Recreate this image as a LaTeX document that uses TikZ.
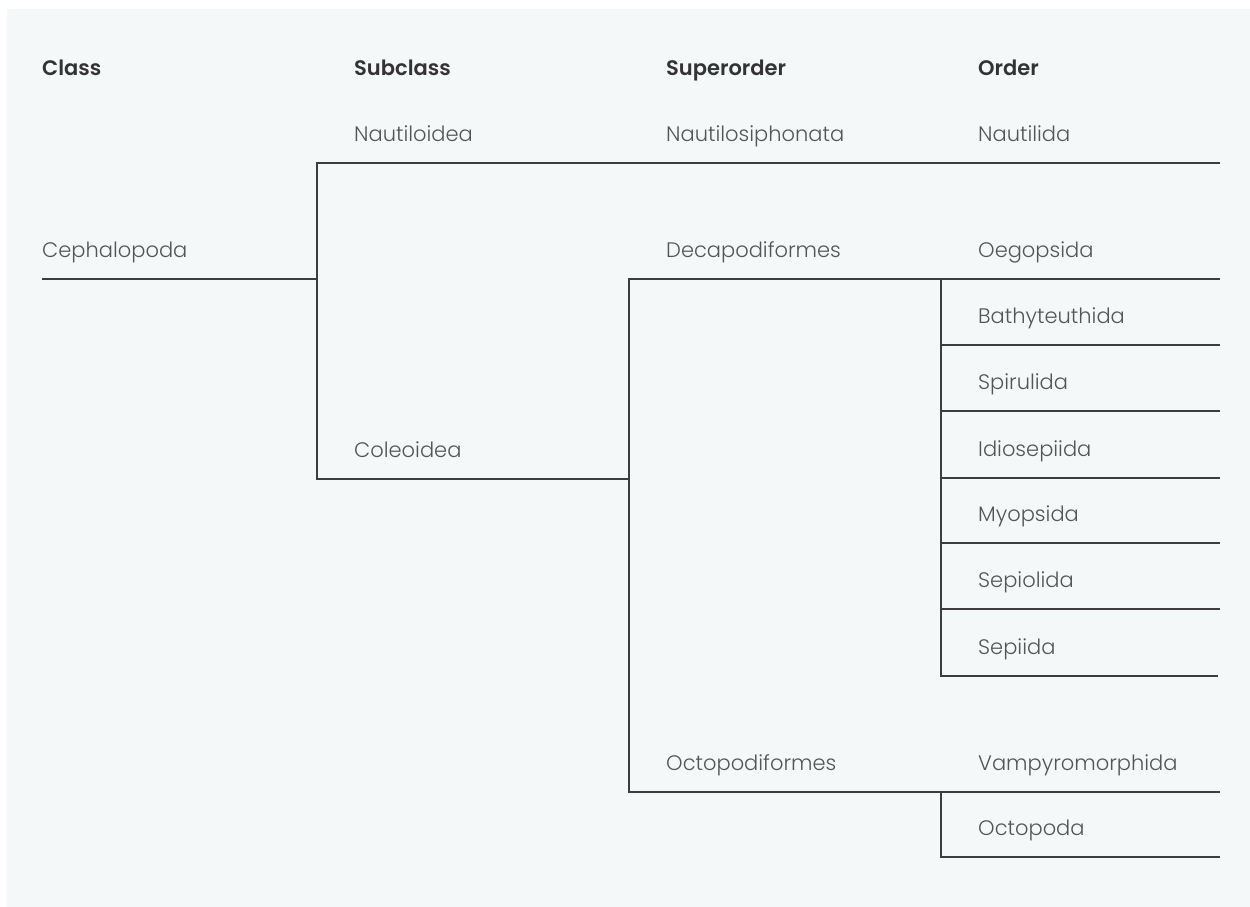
\documentclass[tikz,border=0pt]{standalone}
\usepackage{fontspec}
\setmainfont{Poppins Light}[BoldFont={Poppins SemiBold}]
\definecolor{bgc}{HTML}{F4F8F8}
\definecolor{linec}{HTML}{3D3D3D}
\definecolor{txtc}{HTML}{555555}
\definecolor{headc}{HTML}{333333}
\tikzset{
  lbl/.style={anchor=base west, inner sep=0pt, text=txtc, font=\fontsize{21}{25}\selectfont},
  head/.style={anchor=base west, inner sep=0pt, text=headc, font=\fontsize{21}{25}\selectfont\bfseries},
  branch/.style={draw=linec, line width=2.9pt, line join=miter},
}
\begin{document}
\begin{tikzpicture}[x=1pt, y=-1pt]
\useasboundingbox (0,0) rectangle (1250,907);
\fill[bgc] (7,9) rectangle (1250,907);
% headers
\node[head] (hclass) at (42,75) {Class};
\node[head] (hsub) at (354,75) {Subclass};
\node[head] (hsup) at (666,75) {Superorder};
\node[head] (hord) at (978,75) {Order};
% labels
\node[lbl] (ceph) at (42,257) {Cephalopoda};
\node[lbl] (nautiloidea) at (354,141) {Nautiloidea};
\node[lbl] (coleoidea) at (354,457) {Coleoidea};
\node[lbl] (nautilosiph) at (666,141) {Nautilosiphonata};
\node[lbl] (decapod) at (666,257) {Decapodiformes};
\node[lbl] (octopodif) at (666,770) {Octopodiformes};
\node[lbl] (nautilida) at (978,141) {Nautilida};
\node[lbl] (oegopsida) at (978,257) {Oegopsida};
\node[lbl] (bathy) at (978,323) {Bathyteuthida};
\node[lbl] (spirulida) at (978,389) {Spirulida};
\node[lbl] (idiosep) at (978,456) {Idiosepiida};
\node[lbl] (myopsida) at (978,521) {Myopsida};
\node[lbl] (sepiolida) at (978,587) {Sepiolida};
\node[lbl] (sepiida) at (978,654) {Sepiida};
\node[lbl] (vampyro) at (978,770) {Vampyromorphida};
\node[lbl] (octopoda) at (978,835) {Octopoda};
% branch coordinates
\coordinate (cephL) at (42,279);
\coordinate (cephR) at (317,279);
\coordinate (nautT) at (317,163);
\coordinate (nautE) at (1220,163);
\coordinate (coleB) at (317,479);
\coordinate (coleE) at (629,479);
\coordinate (decT) at (629,279);
\coordinate (decE) at (1220,279);
\coordinate (octB) at (629,792);
\coordinate (octE) at (1220,792);
\coordinate (decJ) at (941,279);
\coordinate (o2) at (941,345);
\coordinate (o2E) at (1220,345);
\coordinate (o3) at (941,411);
\coordinate (o3E) at (1220,411);
\coordinate (o4) at (941,478);
\coordinate (o4E) at (1220,478);
\coordinate (o5) at (941,543);
\coordinate (o5E) at (1220,543);
\coordinate (o6) at (941,609);
\coordinate (o6E) at (1220,609);
\coordinate (o7) at (941,676);
\coordinate (o7E) at (1218,676);
\coordinate (octJ) at (941,792);
\coordinate (opB) at (941,857);
\coordinate (opE) at (1220,857);
% connectors
\draw[branch] (cephL) -- (cephR);
\draw[branch] (nautE) -- (nautT) -- (coleB) -- (coleE);
\draw[branch] (decE) -- (decT) -- (octB) -- (octE);
\draw[branch] (decJ) -- (o7) -- (o7E);
\draw[branch] (o2) -- (o2E);
\draw[branch] (o3) -- (o3E);
\draw[branch] (o4) -- (o4E);
\draw[branch] (o5) -- (o5E);
\draw[branch] (o6) -- (o6E);
\draw[branch] (octJ) -- (opB) -- (opE);
\end{tikzpicture}
\end{document}
